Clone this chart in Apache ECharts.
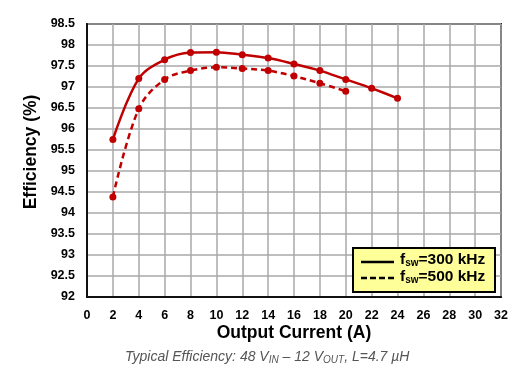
<!DOCTYPE html>
<html><head><meta charset="utf-8">
<script src="https://cdn.jsdelivr.net/npm/echarts@6/dist/echarts.min.js"></script>
<style>html,body{margin:0;padding:0;background:#fff;}#c{width:529px;height:383px;}</style>
</head><body><div id="c"></div>
<script>
const currents = [2,4,6,8,10,12,14,16,18,20,22,24];
const eff300 = [95.75,97.2,97.65,97.82,97.83,97.77,97.69,97.55,97.39,97.18,96.97,96.73];
const currents500 = [2,4,6,8,10,12,14,16,18,20];
const eff500 = [94.38,96.48,97.18,97.39,97.47,97.44,97.39,97.26,97.09,96.9];
const legendNames = ['300 kHz','500 kHz'];
const red = '#c00000';
const chart = echarts.init(document.getElementById('c'));
const FF = '"Liberation Sans", Arial, sans-serif';
chart.setOption({
  animation:false,
  grid:{left:87,right:28,top:24,bottom:86,show:true,borderColor:'#222',borderWidth:2},
  xAxis:{type:'value',min:0,max:32,interval:2,
    axisLine:{show:true,lineStyle:{color:'#111',width:2}},axisTick:{show:false},
    axisLabel:{fontFamily:FF,fontWeight:'bold',fontSize:12.5,color:'#000',margin:12},
    splitLine:{show:true,lineStyle:{color:'#a8a8a8',width:1.5}}},
  yAxis:{type:'value',min:92,max:98.5,interval:0.5,
    axisLine:{show:true,lineStyle:{color:'#111',width:2}},axisTick:{show:false},
    axisLabel:{fontFamily:FF,fontWeight:'bold',fontSize:12.5,color:'#000',margin:12,padding:[3,0,0,0]},
    splitLine:{show:true,lineStyle:{color:'#a8a8a8',width:1.5}}},
  series:[
    {name:legendNames[0],type:'line',smooth:0.35,data:currents.map((x,i)=>[x,eff300[i]]),
     symbol:'circle',symbolSize:7,itemStyle:{color:red},lineStyle:{color:red,width:2.5}},
    {name:legendNames[1],type:'line',smooth:0.35,data:currents500.map((x,i)=>[x,eff500[i]]),
     symbol:'circle',symbolSize:7,itemStyle:{color:red},lineStyle:{color:red,width:2.5,type:[6,4]}}
  ],
  graphic:[
    {type:'text',x:31,y:152,rotation:Math.PI/2,style:{text:'Efficiency (%)',fontFamily:FF,fontWeight:'bold',fontSize:17.5,fill:'#000',align:'center',verticalAlign:'middle'}},
    {type:'text',x:294,y:333,style:{text:'Output Current (A)',fontFamily:FF,fontWeight:'bold',fontSize:17.5,fill:'#000',align:'center',verticalAlign:'middle'}},
    {type:'rect',left:352,top:247,shape:{width:142,height:44},style:{fill:'#ffff99',stroke:'#000',lineWidth:2},z:100},
    {type:'line',shape:{x1:361,y1:262,x2:394,y2:262},style:{stroke:'#000',lineWidth:2.5},z:101},
    {type:'line',shape:{x1:361,y1:278,x2:394,y2:278},style:{stroke:'#000',lineWidth:2.5,lineDash:[6,3]},z:101},
    {type:'text',left:400,top:252,z:101,style:{text:'f{s|sw}=300 kHz',fontFamily:FF,fontWeight:'bold',fontSize:15.5,fill:'#000',
      rich:{s:{fontFamily:FF,fontWeight:'bold',fontSize:10,fill:'#000',padding:[7,0,0,0]}}}},
    {type:'text',left:400,top:269,z:101,style:{text:'f{s|sw}=500 kHz',fontFamily:FF,fontWeight:'bold',fontSize:15.5,fill:'#000',
      rich:{s:{fontFamily:FF,fontWeight:'bold',fontSize:10,fill:'#000',padding:[7,0,0,0]}}}},
    {type:'text',left:125,top:350,style:{text:'Typical Efficiency: 48 V{s|IN} – 12 V{s|OUT}, L=4.7 µH',fontFamily:FF,fontStyle:'italic',fontSize:14,fill:'#555',
      rich:{s:{fontFamily:FF,fontStyle:'italic',fontSize:10,fill:'#555',padding:[7,0,0,0]}}}}
  ]
});
</script></body></html>
